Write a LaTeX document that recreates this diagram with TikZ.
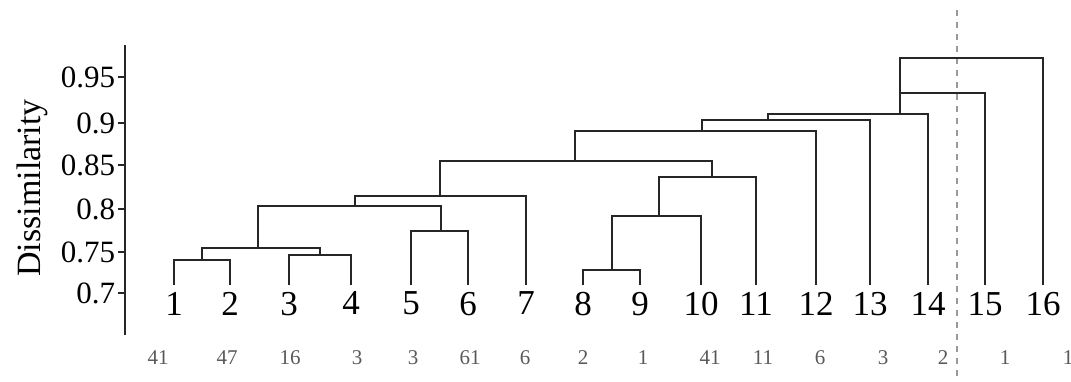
\documentclass[tikz,border=0pt]{standalone}
\usepackage{fontspec}
\setmainfont{Liberation Serif}

\begin{document}
\begin{tikzpicture}[x=0.5pt, y=-0.5pt, line width=0.9pt, draw=black!85,
    leaflabel/.style={anchor=north, inner sep=3pt, font=\fontsize{17.5}{20}\selectfont},
    sizelabel/.style={text=black!65, inner sep=1pt, font=\fontsize{10.5}{12}\selectfont},
    ticklabel/.style={anchor=east, inner sep=1pt, font=\fontsize{15.5}{18}\selectfont}]
	\useasboundingbox (0,0) rectangle (1071,381);

	% axis
	\draw (125,45) -- (125,335);
	\draw (118,77) -- (125,77);   \node [ticklabel] (t95) at (118,77) {0.95};
	\draw (118,123) -- (125,123); \node [ticklabel] (t90) at (118,123) {0.9};
	\draw (118,165) -- (125,165); \node [ticklabel] (t85) at (118,165) {0.85};
	\draw (118,209) -- (125,209); \node [ticklabel] (t80) at (118,209) {0.8};
	\draw (118,252) -- (125,252); \node [ticklabel] (t75) at (118,252) {0.75};
	\draw (118,293) -- (125,293); \node [ticklabel] (t70) at (118,293) {0.7};
	\node [rotate=90, font=\fontsize{17}{20}\selectfont] (ylab) at (32,188) {Dissimilarity};

	% cut line
	\draw [dashed, black!40, line width=0.6pt] (957,10) -- (957,381);

	% leaves
	\node [leaflabel] (l1) at (174,285) {1};
	\node [leaflabel] (l2) at (230,285) {2};
	\node [leaflabel] (l3) at (289,285) {3};
	\node [leaflabel] (l4) at (351,285) {4};
	\node [leaflabel] (l5) at (411,285) {5};
	\node [leaflabel] (l6) at (468,285) {6};
	\node [leaflabel] (l7) at (526,285) {7};
	\node [leaflabel] (l8) at (583,285) {8};
	\node [leaflabel] (l9) at (640,285) {9};
	\node [leaflabel] (l10) at (701,285) {10};
	\node [leaflabel] (l11) at (756,285) {11};
	\node [leaflabel] (l12) at (816,285) {12};
	\node [leaflabel] (l13) at (870,285) {13};
	\node [leaflabel] (l14) at (928,285) {14};
	\node [leaflabel] (l15) at (985,285) {15};
	\node [leaflabel] (l16) at (1043,285) {16};

	% cluster sizes
	\node [sizelabel] (s1) at (158,358) {41};
	\node [sizelabel] (s2) at (227,358) {47};
	\node [sizelabel] (s3) at (290,358) {16};
	\node [sizelabel] (s4) at (357,358) {3};
	\node [sizelabel] (s5) at (413,358) {3};
	\node [sizelabel] (s6) at (470,358) {61};
	\node [sizelabel] (s7) at (525,358) {6};
	\node [sizelabel] (s8) at (583,358) {2};
	\node [sizelabel] (s9) at (643,358) {1};
	\node [sizelabel] (s10) at (710,358) {41};
	\node [sizelabel] (s11) at (763,358) {11};
	\node [sizelabel] (s12) at (820,358) {6};
	\node [sizelabel] (s13) at (883,358) {3};
	\node [sizelabel] (s14) at (943,358) {2};
	\node [sizelabel] (s15) at (1005,358) {1};
	\node [sizelabel] (s16) at (1068,358) {1};

	% merges
	\coordinate (mA) at (202,260);
	\coordinate (mB) at (320,255);
	\coordinate (mC) at (258,248);
	\coordinate (mD) at (441,231);
	\coordinate (mE) at (355,206);
	\coordinate (mF) at (440,196);
	\coordinate (mG) at (612,270);
	\coordinate (mH) at (659,216);
	\coordinate (mI) at (712,177);
	\coordinate (mJ) at (575,161);
	\coordinate (mK) at (702,131);
	\coordinate (mL) at (768,120);
	\coordinate (mM) at (900,114);
	\coordinate (mN) at (900,93);
	\coordinate (mO) at (900,58);

	\draw (l1.north) |- (mA) -| (l2.north);
	\draw (l3.north) |- (mB) -| (l4.north);
	\draw (mA) |- (mC) -| (mB);
	\draw (l5.north) |- (mD) -| (l6.north);
	\draw (mC) |- (mE) -| (mD);
	\draw (mE) |- (mF) -| (l7.north);
	\draw (l8.north) |- (mG) -| (l9.north);
	\draw (mG) |- (mH) -| (l10.north);
	\draw (mH) |- (mI) -| (l11.north);
	\draw (mF) |- (mJ) -| (mI);
	\draw (mJ) |- (mK) -| (l12.north);
	\draw (mK) |- (mL) -| (l13.north);
	\draw (mL) |- (mM) -| (l14.north);
	\draw (mM) |- (mN) -| (l15.north);
	\draw (mN) |- (mO) -| (l16.north);
\end{tikzpicture}
\end{document}
